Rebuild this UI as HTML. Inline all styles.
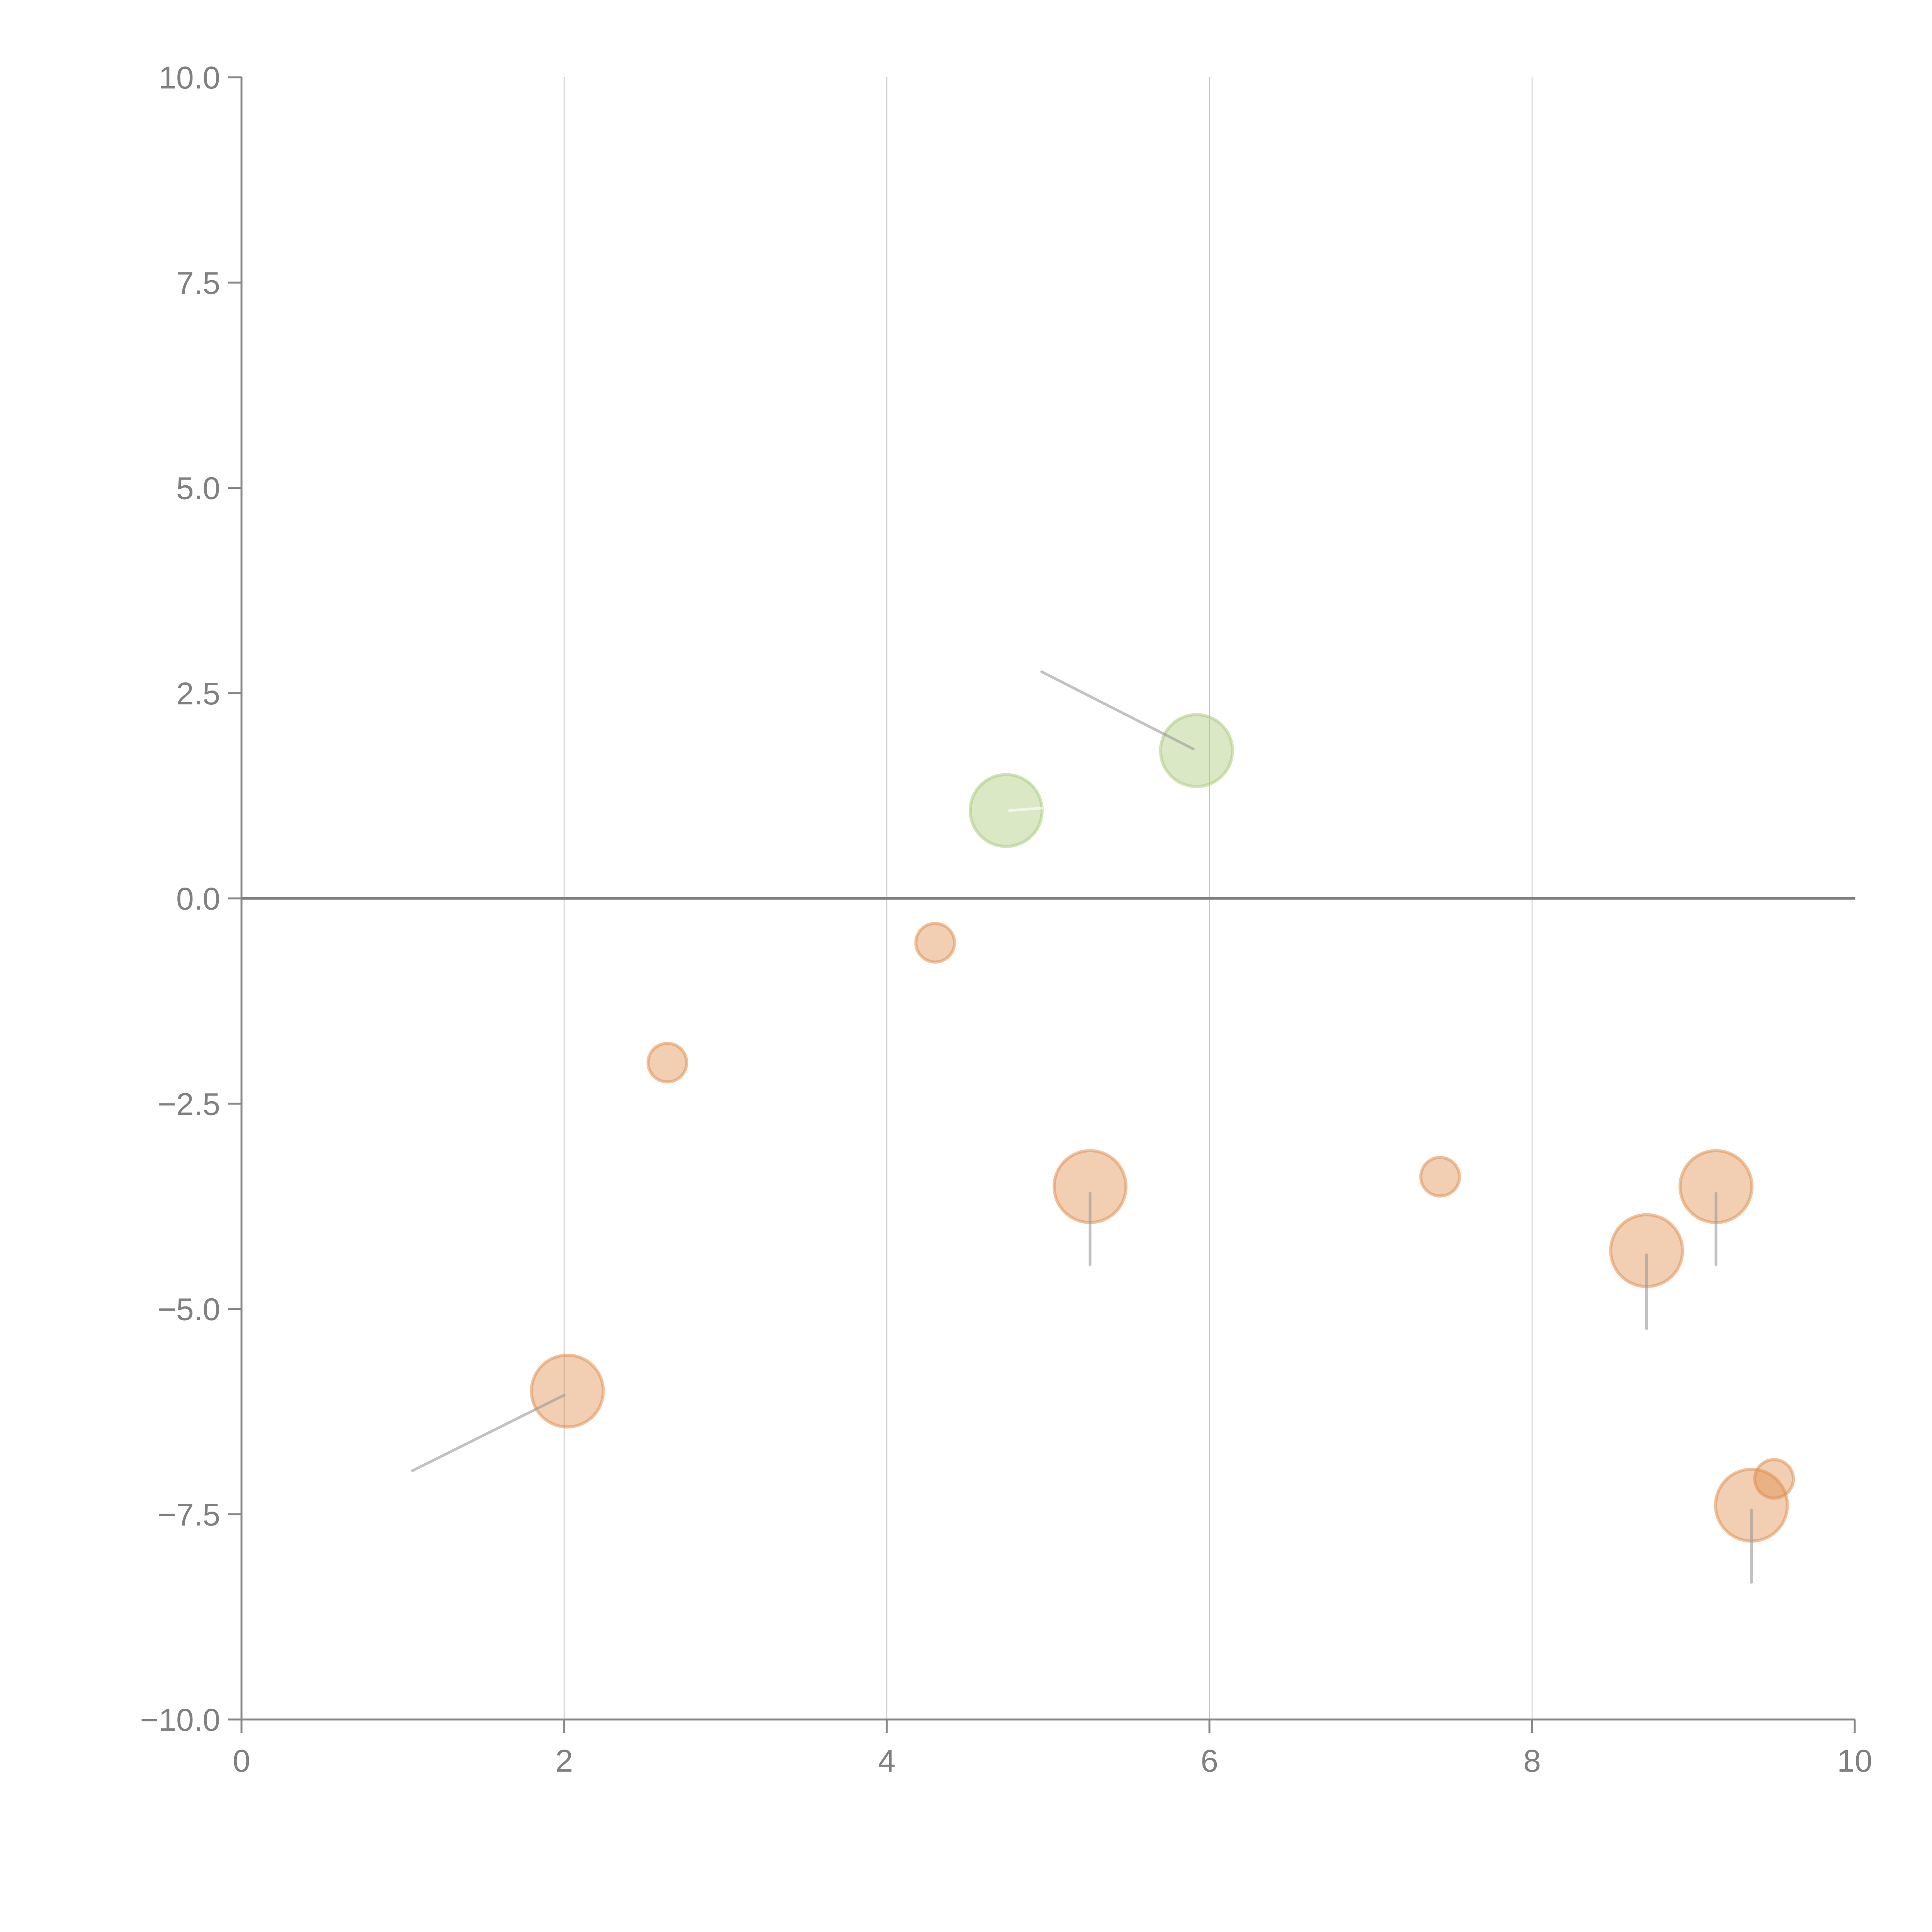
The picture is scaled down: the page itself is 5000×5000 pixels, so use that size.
<!DOCTYPE html>
<html><head><meta charset="utf-8"><style>
html,body{margin:0;padding:0;background:#fff;}
svg{display:block;}
text{font-family:"Liberation Sans",sans-serif;fill:#808080;font-size:82px;}
</style></head><body>
<svg id="chart" width="5000" height="5000" viewBox="0 0 5000 5000" xmlns="http://www.w3.org/2000/svg">
<g id="grid"></g>
<g id="axes"></g>
<g id="bubbles"></g>
<g id="links"></g>
</svg>
<script>
const xTicks = [0, 2, 4, 6, 8, 10];
const yTicks = [-10, -7.5, -5, -2.5, 0, 2.5, 5, 7.5, 10];
const yTickLabels = ["\u221210.0","\u22127.5","\u22125.0","\u22122.5","0.0","2.5","5.0","7.5","10.0"];
const bubbleX = [2.02, 2.64, 4.30, 5.26, 7.43, 8.71, 9.14, 9.36, 9.50, 4.74, 5.92];
const bubbleY = [-6.0, -2.0, -0.54, -3.51, -3.39, -4.29, -3.51, -7.39, -7.07, 1.07, 1.80];
const bubbleSize = [2, 1, 1, 2, 1, 2, 2, 2, 1, 2, 2];
const bubbleGroup = ["neg","neg","neg","neg","neg","neg","neg","neg","neg","pos","pos"];
const lineX1 = [1.06, 5.26, 8.71, 9.14, 9.36, 4.96, 4.96];
const lineY1 = [-6.97, -3.59, -4.34, -3.59, -7.45, 2.76, 1.10];
const lineX2 = [2.0, 5.26, 8.71, 9.14, 9.36, 5.90, 4.76];
const lineY2 = [-6.05, -4.46, -5.24, -4.46, -8.33, 1.82, 1.07];
const lineKind = ["gray","gray","gray","gray","gray","gray","white"];

const X0=625, X1=4800, Y0=4450, Y1=200;
const xs = v => X0 + (v-0)/(10-0)*(X1-X0);
const ys = v => Y0 - (v+10)/20*(Y0-Y1);
const NS="http://www.w3.org/2000/svg";
function mk(tag, parent, attrs){const e=document.createElementNS(NS,tag);for(const k in attrs)e.setAttribute(k,attrs[k]);parent.appendChild(e);return e;}
const grid=document.getElementById('grid'), axes=document.getElementById('axes'), bub=document.getElementById('bubbles'), links=document.getElementById('links');

xTicks.forEach(t=>{
  if(t>0&&t<10){const g=mk('line',grid,{x1:xs(t),x2:xs(t),y1:Y1,y2:Y0,stroke:'#c8c8c8','stroke-width':2.5});
  
  }
  const tk=mk('line',axes,{x1:xs(t),x2:xs(t),y1:Y0,y2:Y0+35,stroke:'#888','stroke-width':5});
  
  
  const tx=mk('text',axes,{x:xs(t),y:Y0+135,'text-anchor':'middle'});
  tx.textContent=String(t);
  
  
});
yTicks.forEach((t,i)=>{
  const tk=mk('line',axes,{x1:X0-35,x2:X0,y1:ys(t),y2:ys(t),stroke:'#888','stroke-width':5});
  
  
  const tx=mk('text',axes,{x:X0-55,y:ys(t)+29,'text-anchor':'end'});
  tx.textContent=yTickLabels[i];
  
  
});
const ya=mk('line',axes,{x1:X0,x2:X0,y1:Y1,y2:Y0,stroke:'#888','stroke-width':5});


const xa=mk('line',axes,{x1:X0,x2:X1,y1:Y0,y2:Y0,stroke:'#888','stroke-width':5});


const zl=mk('line',axes,{x1:X0,x2:X1,y1:ys(0),y2:ys(0),stroke:'#808080','stroke-width':7});



bubbleX.forEach((v,i)=>{
  const col = bubbleGroup[i]==='neg' ? '#e08a48' : '#a8c878';
  const r = bubbleSize[i]===2 ? 93 : 50;
  const c=mk('circle',bub,{cx:xs(v),cy:ys(bubbleY[i]),r:r,fill:col,'fill-opacity':0.42,stroke:col,'stroke-opacity':0.5,'stroke-width':8});
  
  
});
lineX1.forEach((v,i)=>{
  const white = lineKind[i]==='white';
  const l=mk('line',links,{x1:xs(v),y1:ys(lineY1[i]),x2:xs(lineX2[i]),y2:ys(lineY2[i]),stroke:white?'#ffffff':'#999999','stroke-opacity':white?0.6:0.6,'stroke-width':7,'stroke-linecap':'round'});
  
  
});
</script>
</body></html>
